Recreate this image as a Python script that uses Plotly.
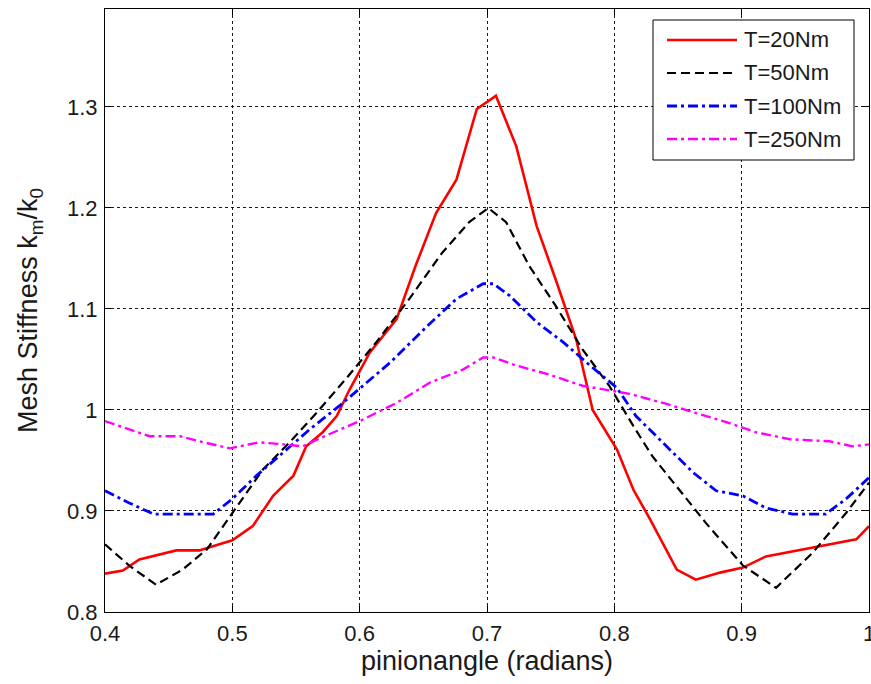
import plotly.graph_objects as go

# T = 20 Nm
x20 = [0.400, 0.414, 0.427, 0.456, 0.474, 0.500, 0.516, 0.524, 0.532, 0.548, 0.558, 0.571, 0.582,
       0.592, 0.608, 0.629, 0.644, 0.660, 0.676, 0.692, 0.707, 0.723, 0.739, 0.754, 0.770,
       0.783, 0.802, 0.815, 0.828, 0.849, 0.864, 0.883, 0.901, 0.919, 0.943, 0.969, 0.990, 1.000]
y20 = [0.838, 0.841, 0.852, 0.861, 0.861, 0.871, 0.885, 0.900, 0.915, 0.935, 0.964, 0.978, 0.994,
       1.020, 1.057, 1.090, 1.143, 1.195, 1.228, 1.298, 1.311, 1.261, 1.182, 1.129, 1.070,
       1.000, 0.961, 0.921, 0.892, 0.842, 0.832, 0.839, 0.844, 0.855, 0.861, 0.867, 0.872, 0.885]

# T = 50 Nm
x50 = [0.400, 0.419, 0.440, 0.461, 0.480, 0.500, 0.524, 0.545, 0.566, 0.590, 0.613, 0.639, 0.665,
       0.686, 0.701, 0.715, 0.733, 0.754, 0.775, 0.796, 0.815, 0.830, 0.851, 0.872, 0.901,
       0.927, 0.956, 0.982, 1.000]
y50 = [0.867, 0.846, 0.827, 0.842, 0.862, 0.898, 0.941, 0.968, 0.997, 1.032, 1.067, 1.110, 1.156,
       1.186, 1.200, 1.186, 1.143, 1.103, 1.060, 1.024, 0.984, 0.954, 0.921, 0.888, 0.846,
       0.824, 0.859, 0.898, 0.928]

# T = 100 Nm
x100 = [0.400, 0.419, 0.438, 0.461, 0.485, 0.500, 0.519, 0.540, 0.561, 0.584, 0.608, 0.624, 0.653,
        0.676, 0.697, 0.705, 0.718, 0.739, 0.760, 0.781, 0.802, 0.817, 0.841, 0.862, 0.880,
        0.901, 0.919, 0.940, 0.966, 0.982, 1.000]
y100 = [0.920, 0.908, 0.897, 0.897, 0.897, 0.912, 0.935, 0.958, 0.981, 1.004, 1.030, 1.047, 1.083,
        1.110, 1.125, 1.125, 1.113, 1.087, 1.067, 1.044, 1.022, 0.994, 0.964, 0.938, 0.920,
        0.915, 0.903, 0.897, 0.897, 0.912, 0.933]

# T = 250 Nm
x250 = [0.400, 0.419, 0.435, 0.459, 0.474, 0.498, 0.521, 0.540, 0.555, 0.576, 0.600, 0.629, 0.655,
        0.681, 0.697, 0.705, 0.723, 0.749, 0.775, 0.812, 0.841, 0.864, 0.888, 0.911, 0.938,
        0.969, 0.987, 1.000]
y250 = [0.989, 0.981, 0.974, 0.974, 0.969, 0.962, 0.968, 0.966, 0.964, 0.976, 0.989, 1.007, 1.027,
        1.040, 1.052, 1.052, 1.044, 1.035, 1.024, 1.016, 1.006, 0.997, 0.988, 0.978, 0.971,
        0.969, 0.964, 0.966]

names = ["T=20Nm", "T=50Nm", "T=100Nm", "T=250Nm"]
colors = ["#ff0000", "#000000", "#0000ff", "#ff00ff"]
dashes = ["solid", "9px,5px", "10px,4px,3px,4px", "10px,4px,3px,4px"]
widths = [2.6, 2.2, 2.8, 2.4]
xs = [x20, x50, x100, x250]
ys = [y20, y50, y100, y250]

x_ticks = [0.4, 0.5, 0.6, 0.7, 0.8, 0.9, 1.0]
x_ticklabels = ["0.4", "0.5", "0.6", "0.7", "0.8", "0.9", "1"]
y_ticks = [0.8, 0.9, 1.0, 1.1, 1.2, 1.3]
y_ticklabels = ["0.8", "0.9", "1", "1.1", "1.2", "1.3"]

fig = go.Figure()
for i in range(4):
    fig.add_trace(go.Scatter(
        x=xs[i], y=ys[i], mode="lines", name=names[i], showlegend=False,
        line=dict(color=colors[i], width=widths[i], dash=dashes[i]),
    ))

# ---- layout geometry (pixels); page margin is removed in post_script ----
W, H = 871, 684
ML, MR, MT, MB = 105, 2, 9, 72
PW = W - ML - MR
PH = H - MT - MB


def px(xp):  # page pixel -> paper fraction
    return (xp - ML) / PW


def py(yp):
    return (H - MB - yp) / PH


font_family = "Liberation Sans, Arial, sans-serif"
txt_color = "#1a1a1a"

# ---- legend box (drawn in the style of the original) ----
shapes = [dict(type="rect", xref="paper", yref="paper",
               x0=px(653), x1=px(854), y0=py(160), y1=py(20),
               line=dict(color="black", width=1), fillcolor="white", layer="above")]
annotations = []
row_y = [40, 73, 106, 139]
for i in range(4):
    shapes.append(dict(type="line", xref="paper", yref="paper",
                       x0=px(667), x1=px(737), y0=py(row_y[i]), y1=py(row_y[i]),
                       line=dict(color=colors[i], width=widths[i], dash=dashes[i]),
                       layer="above"))
    annotations.append(dict(xref="paper", yref="paper", x=px(742), y=py(row_y[i]),
                            text=names[i], showarrow=False, xanchor="left", yanchor="middle",
                            font=dict(family=font_family, size=22, color=txt_color)))

axis_common = dict(
    showline=True, linecolor="black", linewidth=1, mirror="ticks",
    ticks="inside", ticklen=6, tickcolor="black",
    showgrid=True, gridcolor="#1a1a1a", gridwidth=1, griddash="3px,3px",
    zeroline=False, automargin=False, ticklabeloverflow="allow",
    tickfont=dict(family=font_family, size=22, color=txt_color),
)

fig.update_layout(
    width=W, height=H,
    margin=dict(l=ML, r=MR, t=MT, b=MB, pad=0),
    paper_bgcolor="white", plot_bgcolor="white",
    font=dict(family=font_family, color=txt_color),
    xaxis=dict(range=[0.4, 1.0], tickvals=x_ticks, ticktext=x_ticklabels,
               title=dict(text="pinionangle (radians)", font=dict(size=27), standoff=5),
               ticklabelstandoff=2, **axis_common),
    yaxis=dict(range=[0.8, 1.397], tickvals=y_ticks, ticktext=y_ticklabels,
               title=dict(text="Mesh Stiffness k<sub>m</sub>/k<sub>0</sub>", font=dict(size=27), standoff=21),
               ticklabelstandoff=2, **axis_common),
    shapes=shapes,
    annotations=annotations,
    showlegend=False,
)

fig.write_html(
    "out.html",
    config={"displayModeBar": False},
    post_script=("document.body.style.margin='0';"
                 "document.body.style.overflow='hidden';"
                 "document.documentElement.style.overflow='hidden';"),
)
